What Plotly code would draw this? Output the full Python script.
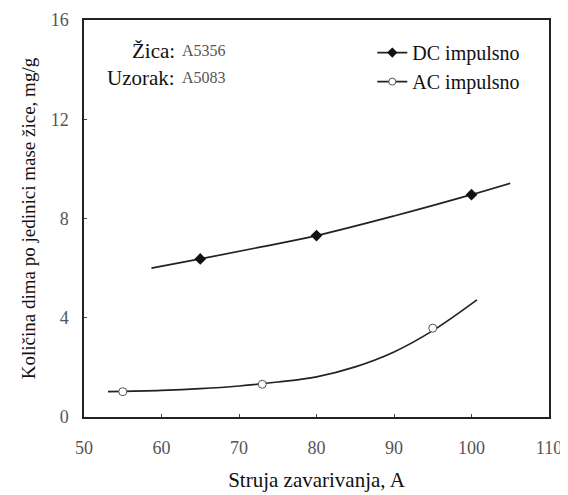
import plotly.graph_objects as go

# measured points
dc_x = [65, 80, 100]
dc_y = [6.37, 7.31, 8.96]
ac_x = [55, 73, 95]
ac_y = [1.02, 1.32, 3.58]

# fitted trend curves
dc_curve_x = [58.7, 65, 72, 80, 90, 100, 105]
dc_curve_y = [6.0, 6.37, 6.8, 7.31, 8.1, 8.96, 9.42]
ac_curve_x = [53.1, 60, 65, 70, 75, 80, 85, 90, 95, 100.7]
ac_curve_y = [1.02, 1.07, 1.14, 1.25, 1.41, 1.62, 2.02, 2.62, 3.48, 4.72]

x_ticks = [50, 60, 70, 80, 90, 100, 110]
y_ticks = [0, 4, 8, 12, 16]

SERIF = "Liberation Serif, Times New Roman, serif"

fig = go.Figure()
fig.add_trace(go.Scatter(x=dc_curve_x, y=dc_curve_y, mode="lines", line=dict(color="#222", width=1.7, shape="spline", smoothing=1), showlegend=False, hoverinfo="skip"))
fig.add_trace(go.Scatter(x=ac_curve_x, y=ac_curve_y, mode="lines", line=dict(color="#222", width=1.7, shape="spline", smoothing=1), showlegend=False, hoverinfo="skip"))
fig.add_trace(go.Scatter(x=dc_x, y=dc_y, mode="markers", marker=dict(symbol="diamond", size=9, color="#111"), showlegend=False))
fig.add_trace(go.Scatter(x=ac_x, y=ac_y, mode="markers", marker=dict(symbol="circle", size=8, color="white", line=dict(color="#555", width=1)), showlegend=False))
fig.add_trace(go.Scatter(x=[None], y=[None], mode="lines+markers", name="DC impulsno", legendgroup="dc",
                         line=dict(color="#222", width=1.7), marker=dict(symbol="diamond", size=8, color="#111")))
fig.add_trace(go.Scatter(x=[None], y=[None], mode="lines+markers", name="AC impulsno", legendgroup="ac",
                         line=dict(color="#222", width=1.7), marker=dict(symbol="circle", size=7, color="white", line=dict(color="#555", width=1))))

axis_common = dict(showline=True, linecolor="#222", linewidth=1.5, mirror=True, showgrid=False, zeroline=False,
                   ticks="inside", ticklen=3, tickcolor="#444", automargin=False,
                   tickfont=dict(family=SERIF, size=18, color="#555"))

fig.update_layout(
    width=560, height=487,
    margin=dict(l=76, r=19, t=12, b=78),
    paper_bgcolor="white", plot_bgcolor="white",
    xaxis=dict(range=[50, 110], tickvals=x_ticks, ticklabelstandoff=14, **axis_common,
               title=dict(text="Struja zavarivanja, A", font=dict(family=SERIF, size=21, color="#111"), standoff=15)),
    yaxis=dict(range=[0, 16], tickvals=y_ticks, ticklabelstandoff=10, **axis_common,
               title=dict(text="Količina dima po jedinici mase žice, mg/g", font=dict(family=SERIF, size=19, color="#111"), standoff=10)),
    legend=dict(x=0.62, y=0.967, xanchor="left", yanchor="top", bgcolor="rgba(0,0,0,0)",
                font=dict(family=SERIF, size=20, color="#111"), tracegroupgap=0, traceorder="grouped"),
    showlegend=True,
)

labels = [("Žica:", "A5356", 0.922), ("Uzorak:", "A5083", 0.855)]
for lab, val, yp in labels:
    fig.add_annotation(x=0.2, y=yp, xref="paper", yref="paper", text=lab, showarrow=False,
                       xanchor="right", yanchor="middle", font=dict(family=SERIF, size=21, color="#111"))
    fig.add_annotation(x=0.206, y=yp, xref="paper", yref="paper", text=val, showarrow=False,
                       xanchor="left", yanchor="middle", font=dict(family=SERIF, size=16, color="#555"))

fig.write_html("out.html")
